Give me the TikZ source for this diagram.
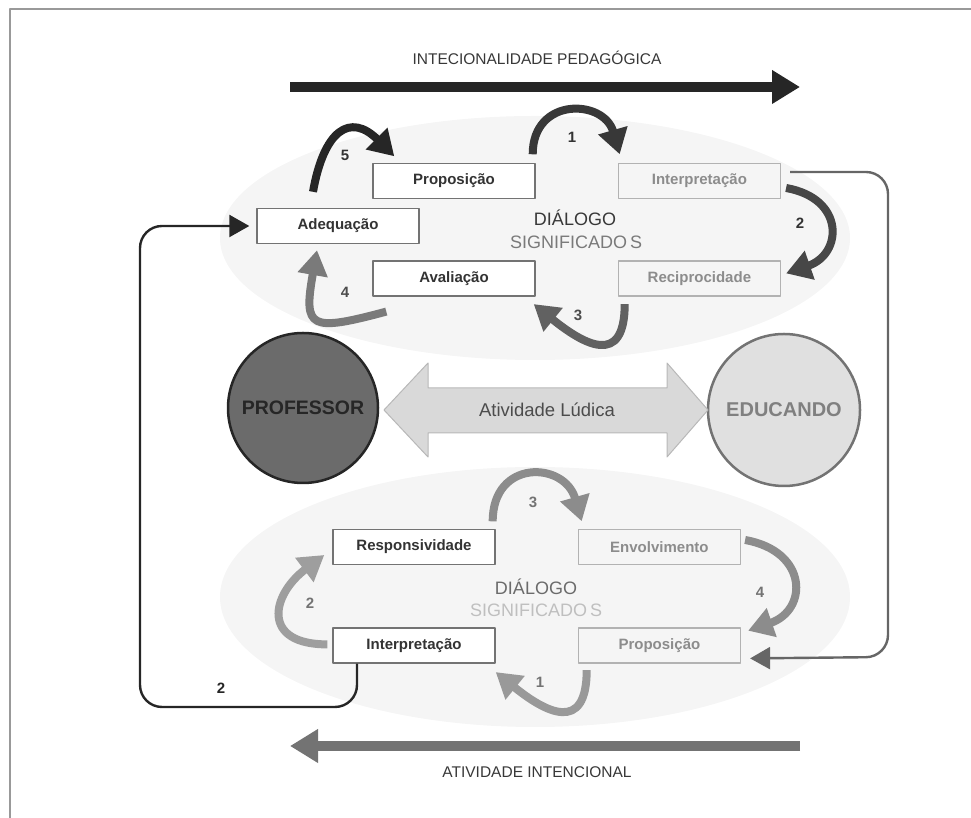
\documentclass[tikz,border=0pt]{standalone}
\usepackage{fontspec}
\setmainfont{Liberation Sans}
\usetikzlibrary{arrows.meta,positioning}
\begin{document}
\begin{tikzpicture}[x=1pt,y=1pt,line join=round,
    caixa/.style={draw=black!55,line width=1.4pt,fill=white,minimum width=162pt,minimum height=35pt,inner sep=0pt,text=black!80,font=\fontsize{15}{17}\selectfont\bfseries},
    caixaclara/.style={caixa,draw=black!30,fill=none,text=black!45},
    volta/.style={line width=8pt,-{Triangle[length=25pt,width=29pt]}},
    num/.style={inner sep=0pt,font=\fontsize{15}{17}\selectfont\bfseries},
    liga/.style={line width=2.4pt,rounded corners=22pt,-{Triangle[length=20pt,width=22pt]}},
    titulo/.style={inner sep=0pt,text=black!78,font=\fontsize{15.5}{17}\selectfont}]
    \useasboundingbox (0,0) rectangle (971,818);
    \draw[black!40,line width=2pt] (10,0) -- (10,809) -- (971,809);
    % fundos
    \fill[black!4] (535,580) ellipse (315 and 122);
    \fill[black!4] (535,221) ellipse (315 and 130);
    % intencionalidade
    \node[titulo] (intenc) at (537,760) {INTECIONALIDADE PEDAGÓGICA};
    \coordinate (i0) at (290,731);
    \coordinate (i1) at (800,731);
    \draw[line width=10pt,black!85,-{Triangle[length=28pt,width=32pt]}] (i0) -- (i1);
    % dialogo de cima
    \node[caixa] (prop1) at (454,637) {Proposição};
    \node[caixaclara,right=82pt of prop1] (interp1) {Interpretação};
    \node[caixa] (adeq) at (338,592) {Adequação};
    \node[caixa,below=61pt of prop1] (aval) {Avaliação};
    \node[caixaclara,right=82pt of aval] (recip) {Reciprocidade};
    \node[inner sep=0pt,text=black!78,font=\fontsize{18}{20}\selectfont] (dial1) at (575,600) {DIÁLOGO};
    \node[inner sep=0pt,text=black!52,font=\fontsize{18}{20}\selectfont] (sig1) at (576,576) {SIGNIFICADO\hspace{3pt}S};
    \draw[volta,black!78] ([xshift=-3pt,yshift=8.5pt]prop1.north east) to[out=90,in=106,looseness=1.7] ([xshift=2pt,yshift=8.5pt]interp1.north west);
    \draw[volta,black!72] ([xshift=5pt,yshift=-7pt]interp1.east) to[out=-10,in=19,looseness=1.8] ([xshift=5pt,yshift=5pt]recip.east);
    \draw[volta,black!62] ([xshift=7pt,yshift=-7.5pt]recip.south west) to[out=-90,in=-39,looseness=1.8] ([xshift=-2pt,yshift=-7.5pt]aval.south east);
    \draw[volta,black!52] ([xshift=14pt,yshift=-15pt]aval.south west) to[out=195,in=-100,looseness=2.2] ([xshift=-21pt,yshift=-6pt]adeq.south);
    \draw[volta,black!85] ([xshift=-25pt,yshift=16pt]adeq.north) to[out=80,in=135,looseness=1.8] ([xshift=22pt,yshift=6.5pt]prop1.north west);
    \node[num,text=black!80] (n1) at (572,681) {1};
    \node[num,text=black!80] (n2) at (800,595) {2};
    \node[num,text=black!70] (n3) at (578,503) {3};
    \node[num,text=black!70] (n4) at (345,526) {4};
    \node[num,text=black!80] (n5) at (345,663) {5};
    % professor e educando
    \node[circle,minimum size=150pt,line width=2.5pt,draw=black!85,fill=black!58,text=black!85,font=\fontsize{19.5}{21}\selectfont\bfseries] (prof) at (303,410) {PROFESSOR};
    \node[circle,minimum size=152pt,line width=2.5pt,draw=black!55,fill=black!12,text=black!50,font=\fontsize{20}{22}\selectfont\bfseries] (educ) at (784,408) {EDUCANDO};
    \filldraw[fill=black!15,draw=black!28,line width=1pt] (384,408) -- (428,455) -- (428,430) -- (667,430) -- (667,455) -- (708,408) -- (667,361) -- (667,385) -- (428,385) -- (428,361) -- cycle;
    \node[inner sep=0pt,text=black!70,font=\fontsize{18.5}{20}\selectfont] (ludica) at (547,408) {Atividade Lúdica};
    % dialogo de baixo
    \node[caixa] (resp) at (414,271) {Responsividade};
    \node[caixaclara,right=82pt of resp] (envol) {Envolvimento};
    \node[caixa,below=62pt of resp] (interp2) {Interpretação};
    \node[caixaclara,right=82pt of interp2] (prop2) {Proposição};
    \node[inner sep=0pt,text=black!58,font=\fontsize{18}{20}\selectfont] (dial2) at (536,231) {DIÁLOGO};
    \node[inner sep=0pt,text=black!25,font=\fontsize{18}{20}\selectfont] (sig2) at (536,208) {SIGNIFICADO\hspace{3pt}S};
    \draw[volta,black!45] ([xshift=-3pt,yshift=7.5pt]resp.north east) to[out=90,in=106,looseness=1.8] ([xshift=4pt,yshift=7.5pt]envol.north west);
    \draw[volta,black!45] ([xshift=4pt,yshift=7pt]envol.east) to[out=-10,in=19,looseness=1.8] ([xshift=7pt,yshift=-3.5pt]prop2.north east);
    \draw[volta,black!40] ([xshift=9pt,yshift=-6.5pt]prop2.south west) to[out=-90,in=-39,looseness=1.8] ([yshift=-8.5pt]interp2.south east);
    \draw[volta,black!38] ([xshift=-5pt,yshift=1pt]interp2.west) to[out=180,in=217,looseness=1.9] ([xshift=-8pt,yshift=-8pt]resp.west);
    \node[num,text=black!55] (m3) at (533,316) {3};
    \node[num,text=black!55] (m4) at (760,226) {4};
    \node[num,text=black!55] (m1) at (540,136) {1};
    \node[num,text=black!55] (m2) at (310,215) {2};
    % ligacoes
    \draw[liga,black!85] ([xshift=-57pt]interp2.south) |- (140,111) |- ([xshift=-7pt]adeq.west);
    \node[num,text=black!85] (l2) at (221,130) {2};
    \draw[liga,black!60] ([xshift=9pt,yshift=9pt]interp1.east) -| (888,161) -- ([xshift=9pt,yshift=-13pt]prop2.east);
    % atividade intencional
    \coordinate (a0) at (800,72);
    \coordinate (a1) at (290,72);
    \draw[line width=10pt,black!55,-{Triangle[length=28pt,width=32pt]}] (a0) -- (a1);
    \node[titulo] (ativ) at (537,46) {ATIVIDADE INTENCIONAL};
\end{tikzpicture}
\end{document}
